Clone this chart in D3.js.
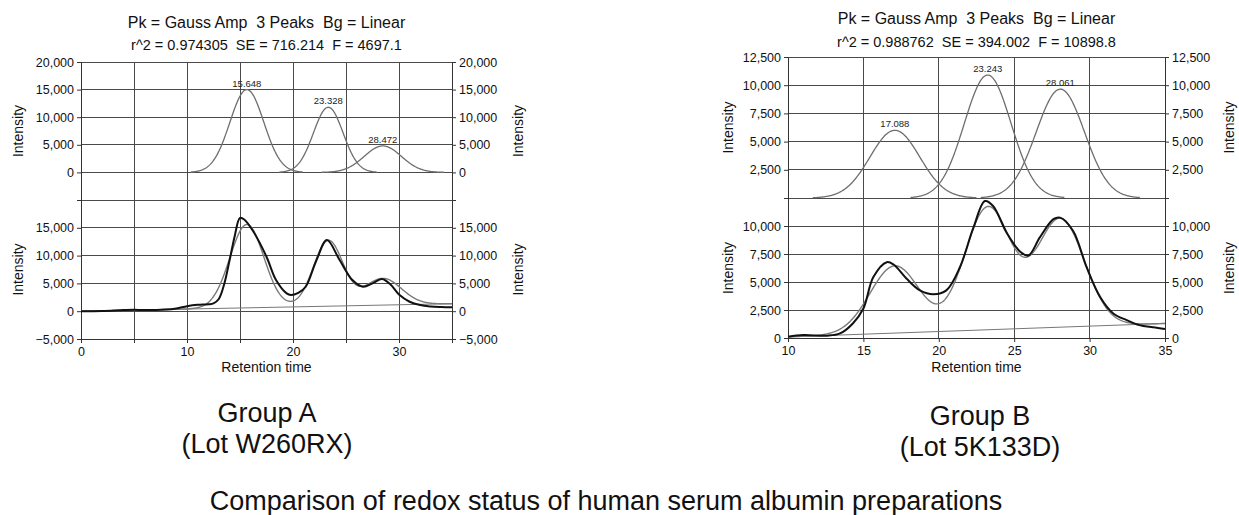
<!DOCTYPE html>
<html>
<head>
<meta charset="utf-8">
<script src="https://cdn.jsdelivr.net/npm/d3@7"></script>
<style>
  body { margin: 0; background: #fff; }
  svg { display: block; font-family: "Liberation Sans", Arial, sans-serif; }
  text { white-space: pre; }
</style>
</head>
<body>
<svg width="1239" height="515"></svg>
<script>
// ---- Group A (Lot W260RX) ----
const timeA = [0, 2, 4, 5, 6, 8, 9, 10, 11, 12, 12.5, 13, 13.5, 14, 14.5, 15, 15.4, 16.2, 17.5, 18.4, 19.4, 19.8, 20.5, 21.2, 22.2, 23.2, 24.4, 25.6, 26.6, 27.5, 28.4, 29.2, 30, 31, 32, 33, 34, 35];
const signalA = [0, 50, 200, 250, 200, 300, 500, 900, 1150, 1250, 1400, 2200, 4800, 9000, 13500, 16800, 16500, 14500, 9800, 5600, 3200, 2900, 3300, 4400, 9100, 12800, 9200, 5600, 4400, 5000, 5800, 4800, 3000, 1700, 1100, 850, 750, 700];
const peakCentersA = [15.648, 23.328, 28.472];
const peakAmpsA = [15000, 11800, 4800];
const peakWidthsA = [1.6, 1.4, 1.75];
const baselineA = [[0, 0], [35, 1350]];
const statsA = ["Pk = Gauss Amp  3 Peaks  Bg = Linear", "r^2 = 0.974305  SE = 716.214  F = 4697.1"];
const labelA = ["Group A", "(Lot W260RX)"];

// ---- Group B (Lot 5K133D) ----
const timeB = [10, 11, 12.6, 13.45, 14.3, 15, 15.66, 16.55, 17, 17.87, 18.75, 19.64, 20.5, 21.4, 22.3, 23.06, 23.6, 24.5, 25.4, 25.94, 26.7, 27.6, 28.04, 28.9, 29.8, 30.7, 31.57, 32.46, 33.3, 34.2, 35];
const signalB = [115, 260, 210, 410, 1300, 2630, 5440, 6770, 6560, 5290, 4250, 3900, 4250, 6320, 9870, 12230, 11790, 9400, 7700, 7360, 8980, 10610, 10750, 9570, 6320, 3660, 2190, 1600, 1150, 950, 800];
const peakCentersB = [17.088, 23.243, 28.061];
const peakAmpsB = [6000, 10900, 9650];
const peakWidthsB = [1.65, 1.55, 1.6];
const baselineB = [[10, 100], [35, 1300]];
const statsB = ["Pk = Gauss Amp  3 Peaks  Bg = Linear", "r^2 = 0.988762  SE = 394.002  F = 10898.8"];
const labelB = ["Group B", "(Lot 5K133D)"];

const caption = "Comparison of redox status of human serum albumin preparations";

const svg = d3.select("svg");
const fmt = d3.format(",");

const panels = [
  {
    time: timeA, signal: signalA, centers: peakCentersA, amps: peakAmpsA, widths: peakWidthsA,
    baseline: baselineA, stats: statsA, label: labelA,
    x0: 81, x1: 452, xDomain: [0, 35], xLabels: [0, 10, 20, 30],
    top: [62, 200], bottom: [200, 339], yDomain: [-5000, 20000], yStep: 5000,
    topLabels: [0, 5000, 10000, 15000, 20000], bottomLabels: [-5000, 0, 5000, 10000, 15000],
    titleY: [28, 50], yLabelX: [18, 518], groupX: 267, groupY: [422, 453]
  },
  {
    time: timeB, signal: signalB, centers: peakCentersB, amps: peakAmpsB, widths: peakWidthsB,
    baseline: baselineB, stats: statsB, label: labelB,
    x0: 788, x1: 1165, xDomain: [10, 35], xLabels: [10, 15, 20, 25, 30, 35],
    top: [57, 198], bottom: [198, 338], yDomain: [0, 12500], yStep: 2500,
    topLabels: [2500, 5000, 7500, 10000, 12500], bottomLabels: [0, 2500, 5000, 7500, 10000],
    titleY: [24, 47], yLabelX: [728, 1229], groupX: 980, groupY: [425, 456]
  }
];

function gauss(t, c, a, w) {
  return a * Math.exp(-((t - c) * (t - c)) / (2 * w * w));
}

panels.forEach(p => {
  const g = svg.append("g");
  const x = d3.scaleLinear().domain(p.xDomain).range([p.x0, p.x1]);
  const yTop = d3.scaleLinear().domain(p.yDomain).range([p.top[1], p.top[0]]);
  const yBot = d3.scaleLinear().domain(p.yDomain).range([p.bottom[1], p.bottom[0]]);
  const yTicks = d3.range(p.yDomain[0], p.yDomain[1] + 1, p.yStep);
  const xTicks = d3.range(p.xDomain[0], p.xDomain[1] + 0.01, 5);

  // grid
  const grid = g.append("g").attr("stroke", "#4a4a4a").attr("stroke-width", 1).attr("shape-rendering", "crispEdges");
  xTicks.forEach(t => {
    grid.append("line").attr("x1", x(t)).attr("x2", x(t)).attr("y1", p.top[0]).attr("y2", p.bottom[1]);
  });
  [yTop, yBot].forEach(y => {
    yTicks.forEach(v => {
      grid.append("line").attr("x1", p.x0).attr("x2", p.x1).attr("y1", y(v)).attr("y2", y(v));
    });
  });

  // axes
  const axStyle = a => {
    a.selectAll("text").attr("font-size", 12.5).attr("fill", "#111").attr("font-family", "Liberation Sans, Arial, sans-serif");
    a.selectAll("line,path").attr("stroke", "#333");
  };
  [[yTop, p.topLabels], [yBot, p.bottomLabels]].forEach(([y, labels]) => {
    g.append("g").attr("transform", `translate(${p.x0},0)`)
      .call(d3.axisLeft(y).tickValues(labels).tickFormat(fmt).tickSize(4).tickPadding(3))
      .call(axStyle);
    g.append("g").attr("transform", `translate(${p.x1},0)`)
      .call(d3.axisRight(y).tickValues(labels).tickFormat(fmt).tickSize(4).tickPadding(3))
      .call(axStyle);
  });
  g.append("g").attr("transform", `translate(0,${p.bottom[1]})`)
    .call(d3.axisBottom(x).tickValues(xTicks).tickFormat(d => p.xLabels.includes(d) ? d : "").tickSize(4).tickPadding(4))
    .call(axStyle);

  // axis titles
  [p.top, p.bottom].forEach(r => {
    p.yLabelX.forEach(lx => {
      g.append("text").attr("transform", `translate(${lx},${(r[0] + r[1]) / 2}) rotate(-90)`)
        .attr("text-anchor", "middle").attr("dy", "0.35em").attr("font-size", 14).attr("fill", "#111")
        .text("Intensity");
    });
  });
  g.append("text").attr("x", (p.x0 + p.x1) / 2).attr("y", 372).attr("text-anchor", "middle")
    .attr("font-size", 14).attr("fill", "#111").text("Retention time");

  // titles
  g.append("text").attr("x", (p.x0 + p.x1) / 2).attr("y", p.titleY[0]).attr("text-anchor", "middle")
    .attr("font-size", 16).attr("fill", "#111").text(p.stats[0]);
  g.append("text").attr("x", (p.x0 + p.x1) / 2).attr("y", p.titleY[1]).attr("text-anchor", "middle")
    .attr("font-size", 14.5).attr("fill", "#111").text(p.stats[1]);

  // top: individual peaks
  p.centers.forEach((c, i) => {
    const pts = d3.range(c - 3.3 * p.widths[i], c + 3.3 * p.widths[i] + 0.001, 0.05)
      .filter(t => t >= p.xDomain[0] && t <= p.xDomain[1])
      .map(t => [t, gauss(t, c, p.amps[i], p.widths[i])]);
    g.append("path").datum(pts)
      .attr("fill", "none").attr("stroke", "#6e6e6e").attr("stroke-width", 1.3)
      .attr("d", d3.line().x(d => x(d[0])).y(d => yTop(d[1])));
    g.append("text").attr("x", x(c)).attr("y", yTop(p.amps[i]) - 3).attr("text-anchor", "middle")
      .attr("font-size", 9.5).attr("fill", "#222").text(c.toFixed(3));
  });

  // bottom: baseline, fit, measured trace
  const base = t => p.baseline[0][1] + (t - p.baseline[0][0]) * (p.baseline[1][1] - p.baseline[0][1]) / (p.baseline[1][0] - p.baseline[0][0]);
  g.append("path").datum(p.baseline)
    .attr("fill", "none").attr("stroke", "#777").attr("stroke-width", 1)
    .attr("d", d3.line().x(d => x(d[0])).y(d => yBot(d[1])));

  const fitPts = d3.range(p.xDomain[0], p.xDomain[1] + 0.001, 0.05).map(t => {
    let v = base(t);
    p.centers.forEach((c, i) => { v += gauss(t, c, p.amps[i], p.widths[i]); });
    return [t, v];
  });
  g.append("path").datum(fitPts)
    .attr("fill", "none").attr("stroke", "#7a7a7a").attr("stroke-width", 1.4)
    .attr("d", d3.line().x(d => x(d[0])).y(d => yBot(d[1])));

  g.append("path").datum(p.time.map((t, i) => [t, p.signal[i]]))
    .attr("fill", "none").attr("stroke", "#111").attr("stroke-width", 2)
    .attr("d", d3.line().curve(d3.curveCatmullRom.alpha(0.5)).x(d => x(d[0])).y(d => yBot(d[1])));

  // group labels
  p.label.forEach((s, i) => {
    svg.append("text").attr("x", p.groupX).attr("y", p.groupY[i]).attr("text-anchor", "middle")
      .attr("font-size", 27).attr("fill", "#111").text(s);
  });
});

svg.append("text").attr("x", 606).attr("y", 510).attr("text-anchor", "middle")
  .attr("font-size", 27).attr("fill", "#111").text(caption);
</script>
</body>
</html>
